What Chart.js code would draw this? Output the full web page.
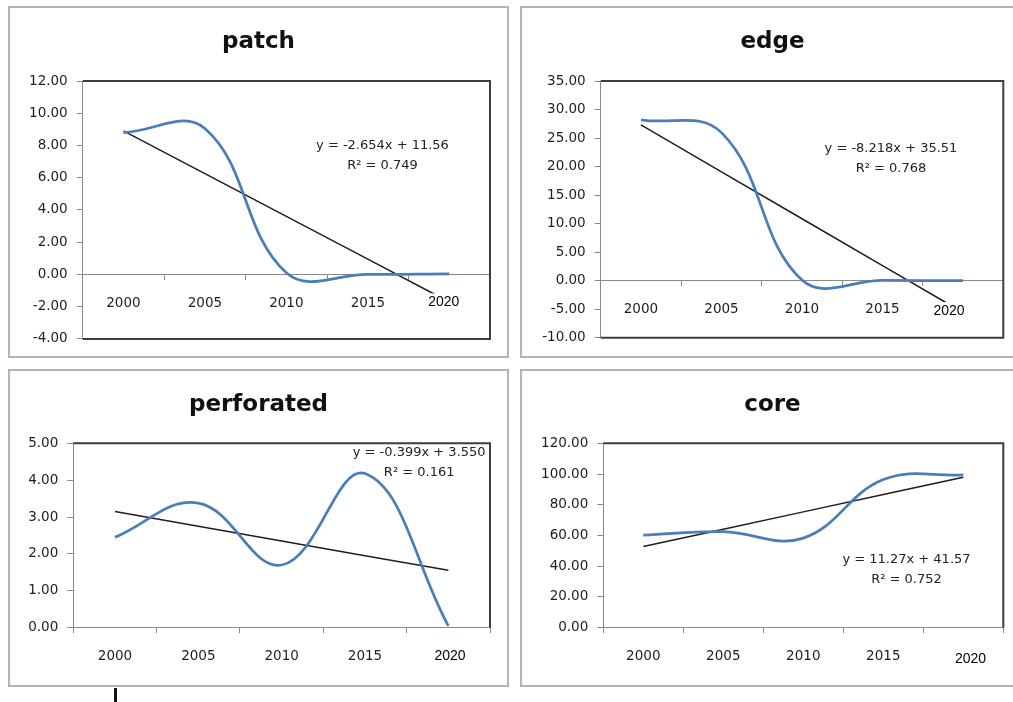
<!DOCTYPE html>
<html>
<head>
<meta charset="utf-8">
<script src="https://cdn.jsdelivr.net/npm/chart.js@4.4.1/dist/chart.umd.min.js"></script>
<style>
  html, body { margin: 0; padding: 0; background: #fff; width: 1013px; height: 702px; overflow: hidden; }
  .panel { position: absolute; box-sizing: border-box; border: 2px solid #b4b4b4; background: #fff; }
  .panel canvas { display: block; }
  #p1 { left: 8px;   top: 6px;   width: 501px; height: 352px; }
  #p2 { left: 520px; top: 6px;   width: 505px; height: 352px; }
  #p3 { left: 8px;   top: 369px; width: 501px; height: 318px; }
  #p4 { left: 520px; top: 369px; width: 505px; height: 318px; }
  .stub { position: absolute; left: 114px; top: 688px; width: 3px; height: 14px; background: #111; }
</style>
</head>
<body>
<div class="panel" id="p1"><canvas id="c1" width="497" height="348"></canvas></div>
<div class="panel" id="p2"><canvas id="c2" width="501" height="348"></canvas></div>
<div class="panel" id="p3"><canvas id="c3" width="497" height="314"></canvas></div>
<div class="panel" id="p4"><canvas id="c4" width="501" height="314"></canvas></div>
<div class="stub"></div>

<script>
// Category axis shared by all four panels
const years = ['2000', '2005', '2010', '2015', '2020'];

// Landscape metric per year
const patchValues      = [8.80, 9.05, 0.10, 0.00, 0.03];
const edgeValues       = [28.2, 25.95, 0.10, 0.05, 0.00];
const perforatedValues = [2.45, 3.38, 1.70, 4.18, 0.05];
const coreValues       = [60.2, 62.5, 58.3, 96.4, 99.5];

// Value-axis tick labels
const patchTicks      = [-4, -2, 0, 2, 4, 6, 8, 10, 12];
const edgeTicks       = [-10, -5, 0, 5, 10, 15, 20, 25, 30, 35];
const perforatedTicks = [0, 1, 2, 3, 4, 5];
const coreTicks       = [0, 20, 40, 60, 80, 100, 120];

// Linear trend lines (x = 1..5), as printed on each panel
const trendSlopes     = ['-2.654', '-8.218', '-0.399', '11.27'];
const trendIntercepts = ['11.56', '35.51', '3.550', '41.57'];
const trendR2         = ['0.749', '0.768', '0.161', '0.752'];

const TICK_FONT = 'DejaVu Sans';
const AXIS_GREY = '#8a8a8a';
const LAST = years.length - 1;

// Dark frame on the top / right (and bottom) of the plot area
const plotFrame = {
  id: 'plotFrame',
  beforeDatasetsDraw(chart, args, opts) {
    const { ctx, chartArea: a } = chart;
    ctx.save();
    ctx.strokeStyle = opts.color;
    ctx.lineWidth = opts.width;
    ctx.beginPath();
    ctx.moveTo(a.left, a.top);
    ctx.lineTo(a.right, a.top);
    ctx.lineTo(a.right, a.bottom);
    if (opts.closeBottom) ctx.lineTo(a.left, a.bottom);
    ctx.stroke();
    ctx.restore();
  }
};

// Trend-line equation and R² text block
const trendLabel = {
  id: 'trendLabel',
  afterDatasetsDraw(chart, args, opts) {
    const { ctx, chartArea: a } = chart;
    const x = a.left + opts.fx * (a.right - a.left);
    const y = a.top + opts.fy * (a.bottom - a.top);
    ctx.save();
    ctx.font = '13px "DejaVu Sans"';
    ctx.fillStyle = '#222';
    ctx.textAlign = 'center';
    ctx.textBaseline = 'middle';
    opts.lines.forEach((t, i) => ctx.fillText(t, x, y + i * 20));
    ctx.restore();
  }
};

// The final year label is set in a separate boxed text with a white fill
const lastYearLabel = {
  id: 'lastYearLabel',
  afterDraw(chart, args, opts) {
    const { ctx } = chart;
    const xs = chart.scales.x, ys = chart.scales.y;
    const x = xs.getPixelForTick(LAST) + opts.dx;
    const y = ys.getPixelForValue(0) + opts.drop;
    const text = years[LAST];
    ctx.save();
    ctx.font = '14px "Liberation Sans"';
    const w = ctx.measureText(text).width;
    ctx.fillStyle = '#fff';
    ctx.fillRect(x - w / 2 - 2, y - 9, w + 4, 18);
    ctx.fillStyle = '#000';
    ctx.textAlign = 'center';
    ctx.textBaseline = 'middle';
    ctx.fillText(text, x, y);
    ctx.restore();
  }
};

function buildChart(canvasId, title, values, tickValues, k, g) {
  const slope = parseFloat(trendSlopes[k]);
  const intercept = parseFloat(trendIntercepts[k]);
  const trend = years.map((_, i) => slope * (i + 1) + intercept);
  const sign = intercept < 0 ? ' - ' : ' + ';
  const eq = 'y = ' + trendSlopes[k] + 'x' + sign + trendIntercepts[k].replace('-', '');

  return new Chart(document.getElementById(canvasId), {
    type: 'line',
    data: {
      labels: years,
      datasets: [
        {
          data: values,
          borderColor: '#4a7ebb',
          borderWidth: 2.75,
          tension: 0.4,
          pointRadius: 0,
          fill: false
        },
        {
          data: trend,
          borderColor: '#1e1e1e',
          borderWidth: 1.5,
          tension: 0,
          pointRadius: 0,
          fill: false
        }
      ]
    },
    options: {
      responsive: false,
      animation: false,
      events: [],
      layout: { padding: { left: g.pad, top: 0, right: g.pad, bottom: g.padBottom } },
      plugins: {
        legend: { display: false },
        tooltip: { enabled: false },
        title: {
          display: true,
          text: title,
          color: '#111',
          font: { family: 'DejaVu Sans', size: 23, weight: 'bold', lineHeight: 1.2 },
          padding: { top: g.titleTop, bottom: g.titleBottom }
        },
        plotFrame: { color: '#3c3c3c', width: 2, closeBottom: tickValues[0] < 0 },
        trendLabel: { fx: g.eqX, fy: g.eqY, lines: [eq, 'R² = ' + trendR2[k]] },
        lastYearLabel: { dx: g.lastDx, drop: g.lastDrop }
      },
      scales: {
        x: {
          type: 'category',
          position: { y: 0 },
          offset: true,
          grid: {
            offset: true,
            drawOnChartArea: false,
            drawTicks: true,
            tickLength: 5,
            color: AXIS_GREY
          },
          border: { display: true, color: AXIS_GREY, width: 1 },
          ticks: {
            z: 1,
            maxRotation: 0,
            autoSkip: false,
            padding: 16,
            color: '#1e1e1e',
            font: { family: TICK_FONT, size: 13.5 },
            callback: (v, i) => (i === LAST ? '' : years[i])
          }
        },
        y: {
          type: 'linear',
          position: 'left',
          min: tickValues[0],
          max: tickValues[tickValues.length - 1],
          afterBuildTicks: (s) => { s.ticks = tickValues.map((v) => ({ value: v })); },
          afterFit: (s) => { s.width = g.axisWidth; },
          grid: {
            drawOnChartArea: false,
            drawTicks: true,
            tickLength: 6,
            color: AXIS_GREY
          },
          border: { display: true, color: AXIS_GREY, width: 1 },
          ticks: {
            padding: 9,
            color: '#1e1e1e',
            font: { family: TICK_FONT, size: 13.5 },
            callback: (v) => Number(v).toFixed(2)
          }
        }
      }
    },
    plugins: [plotFrame, trendLabel, lastYearLabel]
  });
}

buildChart('c1', 'patch', patchValues, patchTicks, 0,
  { pad: 17, axisWidth: 55.7, padBottom: 16.7, titleTop: 20.2, titleBottom: 25.2,
    eqX: 0.736, eqY: 0.25, lastDx: -5.5, lastDrop: 28 });
buildChart('c2', 'edge', edgeValues, edgeTicks, 1,
  { pad: 19.7, axisWidth: 59, padBottom: 18.3, titleTop: 20.2, titleBottom: 25.2,
    eqX: 0.721, eqY: 0.265, lastDx: -14, lastDrop: 30.4 });
buildChart('c3', 'perforated', perforatedValues, perforatedTicks, 2,
  { pad: 17, axisWidth: 46.3, padBottom: 57.3, titleTop: 20.2, titleBottom: 24.5,
    eqX: 0.83, eqY: 0.051, lastDx: 1.7, lastDrop: 28.3 });
buildChart('c4', 'core', coreValues, coreTicks, 3,
  { pad: 19.7, axisWidth: 61.6, padBottom: 57.3, titleTop: 20.2, titleBottom: 24.5,
    eqX: 0.758, eqY: 0.633, lastDx: 7.2, lastDrop: 31.3 });
</script>
</body>
</html>
